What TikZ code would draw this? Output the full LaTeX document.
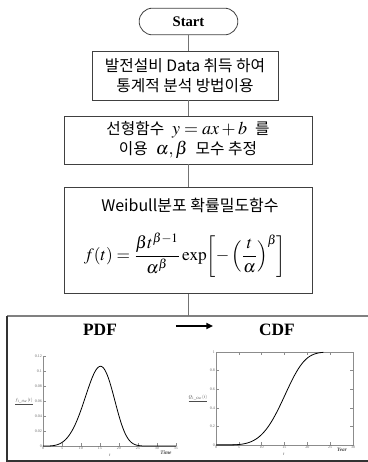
\documentclass[tikz,border=0pt]{standalone}
\usepackage{mathptmx}
\usepackage{fontspec}
\setmainfont{Liberation Serif}
\newfontfamily\kr{Noto Sans CJK KR}
\usetikzlibrary{arrows.meta, positioning, calc}

\begin{document}
\begin{tikzpicture}[x=0.75pt, y=-0.75pt,
    box/.style={draw=black!75, line width=0.6pt, align=center, inner sep=0pt,
      font=\kr\fontsize{11.8}{15.5}\selectfont},
    link/.style={draw=black!55, line width=0.6pt},
    axisline/.style={draw=black!45, line width=0.35pt},
    curve/.style={draw=black, line width=0.6pt},
    ticklbl/.style={font=\fontsize{3}{3}\selectfont, text=black!60, inner sep=0.6pt},
    axlbl/.style={font=\fontsize{3.5}{3.5}\selectfont, text=black!70, inner sep=0pt},
    ttl/.style={font=\fontsize{13}{13}\selectfont\bfseries}]
  \useasboundingbox (0,0) rectangle (368,462);
  \node[draw=black!75, line width=0.6pt, rounded corners=10pt, minimum width=74pt,
    minimum height=20pt, font=\fontsize{11}{11}\selectfont\bfseries] (start) at (188.5,21.5) {Start};
  \node[box, minimum width=139.5pt, minimum height=36.75pt] (data) at (185,75.5)
    {발전설비 Data 취득 하여\\통계적 분석 방법이용};
  \node[box, minimum width=186pt, minimum height=36pt] (fit) at (188,140)
    {선형함수\enspace{\fontsize{13.5}{15}\selectfont$y = ax + b$}\enspace 를\\
     이용\enspace{\fontsize{13.5}{15}\selectfont$\alpha,\beta$}\enspace 모수 추정};
  \node[box, minimum width=186pt, minimum height=80pt] (weibull) at (188,240.5) {};
  \node[font=\kr\fontsize{12}{12}\selectfont] (wname) at (190,205) {Weibull분포 확률밀도함수};
  \node[font=\fontsize{13}{13}\selectfont] (weq) at (185,255)
    {$\displaystyle f(t)=\frac{\beta t^{\beta-1}}{\alpha^{\beta}}\exp\!\left[-\left(\frac{t}{\alpha}\right)^{\beta}\right]$};
  \coordinate (frametop) at (7,316);
  \draw[black!50, line width=1pt] (375,316) -- (frametop);
  \draw[black!80, line width=1pt] (frametop) -- (7,461) -- (375,461);
  \draw[link] (start.south) -- (start.south |- data.north);
  \draw[link] (start.south |- data.south) -- (start.south |- fit.north);
  \draw[link] (start.south |- fit.south) -- (start.south |- weibull.north);
  \draw[link] (start.south |- weibull.south) -- (start.south |- frametop);
  \node[ttl] (pdftitle) at (100,330) {PDF};
  \node[ttl] (cdftitle) at (277,330) {CDF};
  \coordinate (arrowfrom) at (176,326);
  \coordinate (arrowto) at (213,326);
  \draw[-{Triangle[length=5pt,width=4.5pt]}, line width=1.4pt] (arrowfrom) -- (arrowto);
  \begin{scope}[shift={(43,446)}, x=2.85pt, y={(0,562.5pt)}]
    \draw[axisline] (0,0.12) -- (0,0) -- (35,0);
    \foreach \v/\t in {0/0, 0.02/0.02, 0.04/0.04, 0.06/0.06, 0.08/0.08, 0.1/0.1, 0.12/0.12} {
      \draw[axisline] (0,\v) -- ++(2pt,0);
      \node[ticklbl, anchor=east] (py\t) at (0,\v) {\t};
    }
    \foreach \u in {0,5,...,35} {
      \draw[axisline] (\u,0) -- ++(0,2pt);
      \node[ticklbl, anchor=north] (px\u) at (\u,0) {\u};
    }
    \draw[curve] (0,0) -- plot[domain=0.05:27, samples=100, smooth]
      (\x, {4.5/16*pow(\x/16,3.5)*exp(-pow(\x/16,4.5))}) -- (35,0);
  \end{scope}
  \node[axlbl] (pdfylabel) at (24,401) {$\underline{f_{1\_Out}(t)}$};
  \node[axlbl] (pdfxvar) at (110,455) {$t$};
  \node[axlbl, font=\fontsize{4}{4}\selectfont\bfseries\itshape] (pdfxlabel) at (166,453) {Time};
  \begin{scope}[shift={(216,445)}, x=3.425pt, y={(0,69.75pt)}]
    \draw[axisline] (0,0) rectangle (30,1);
    \foreach \v in {0,0.2,0.4,0.6,0.8,1} {
      \draw[axisline] (0,\v) -- ++(2pt,0);
      \draw[axisline] (30,\v) -- ++(-2pt,0);
      \node[ticklbl, anchor=east] (qy\v) at (0,\v) {\v};
    }
    \foreach \u in {0,5,...,30} {
      \draw[axisline] (\u,0) -- ++(0,2pt);
      \draw[axisline] (\u,1) -- ++(0,-2pt);
      \node[ticklbl, anchor=north] (qx\u) at (\u,0) {\u};
    }
    \draw[black!50, line width=1.2pt] (0,0) -- (5,0);
    \draw[curve] (0,0) -- plot[domain=0.05:23.5, samples=100, smooth]
      (\x, {1-exp(-pow(\x/16,4.5))});
  \end{scope}
  \node[axlbl] (cdfylabel) at (198,398) {$\underline{Q_{1\_Out}(t)}$};
  \node[axlbl] (cdfxvar) at (284,454) {$t$};
  \node[axlbl, font=\fontsize{4}{4}\selectfont\bfseries\itshape] (cdfxlabel) at (342,450) {Year};
\end{tikzpicture}
\end{document}
